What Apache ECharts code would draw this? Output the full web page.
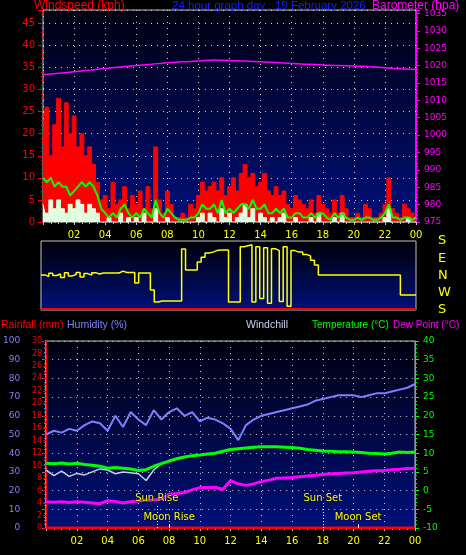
<!DOCTYPE html>
<html><head><meta charset="utf-8">
<script src="https://cdn.jsdelivr.net/npm/echarts@6/dist/echarts.min.js"></script>
<style>html,body{margin:0;background:#000}#c{width:466px;height:555px}</style>
</head><body><div id="c"></div>
<script>
// wind, 15 minute samples (kph)
var gust = [18,26,15,22, 28,17,27,20, 24,17,20,15, 17,13,9,5, 6,3,9,4, 5,8,3,6,
  4,7,3,8, 3,17,5,2, 7,4,1,1, 2,1,4,3, 6,9,7,8, 9,7,10,6,
  8,10,7,11, 13,10,11,8, 9,11,7,6, 8,6,7,4, 3,6,5,4, 3,5,2,6,
  4,3,2,5, 2,6,3,1, 1,2,1,4, 3,1,1,2, 4,10,3,2, 1,4,3,2, 2];
var avgWind = [10,9,10,8, 9,8,8,6, 7,8,9,8, 9,8,6,3, 2,1,2,1, 3,4,2,1,
  2,1,3,2, 1,5,2,1, 3,2,1,0.5, 0.5,0.5,1,1, 2,4,3,3, 4,2,5,2,
  3,2,3,4, 4,3,5,3, 3,4,2,2, 3,2,3,1, 1,2,2,1, 1,2,1,2,
  2,1,0.5,2, 1,2,1,0.5, 0.5,1,0.5,1, 1,0.5,0.5,1, 2,4,1,1, 0.5,1,1,0.5, 1];
var lull = [4,2,5,3, 5,3,2,4, 3,5,4,2, 4,3,2,0, 0,1,0,0, 2,0,1,0,
  1,0,2,0, 0,3,0,0, 1,0,0,0, 0,0,0,0, 1,2,0,2, 1,0,3,1,
  2,0,1,2, 4,1,3,0, 2,1,0,1, 0,1,2,0, 0,1,0,0, 0,1,0,2,
  0,0,0,1, 0,2,0,0, 0,0,0,0, 0,0,0,0, 1,3,0,0, 0,0,1,0, 0];
// direction on panel scale: 0=S 90=W 180=N 270=E 360=S
var windDir = [183,175,192,180, 188,170,195,178, 185,196,172,190, 182,195,188,193,
  193,193,193,193, 203,196,196,196, 141,193,193,193, 104,42,47,47,
  47,47,47,47, 318,209,209,209, 250,275,297,302, 310,313,313,313,
  42,42,42,330, 335,340,42,330, 60,325,35,320, 310,45,330,20,
  310,302,302,290, 282,260,235,183, 183,183,183,183, 183,183,183,183,
  183,183,183,183, 183,183,183,183, 183,183,183,183, 78,78,78,78, 78];
// barometer, hourly (hpa)
var baro = [1017.4,1017.8,1018.2,1018.7,1019.2,1019.6,1020.0,1020.4,1020.8,1021.1,1021.3,1021.6,1021.5,
  1021.3,1021.1,1020.9,1020.6,1020.4,1020.2,1020.0,1019.9,1019.7,1019.4,1019.1,1018.9];
// half-hour samples
var humidity = [50,52,51,53,52,55,57,56,52,60,54,62,58,55,63,58,62,64,60,62,57,59,58,56,53,47,
  55,58,60,61,62,63,64,65,66,68,69,70,71,71,71,70,71,72,72,73,74,75,77];
var temperature = [7.3,7.2,7.4,7.1,7.3,7.0,6.8,6.5,6.0,6.2,6.0,5.8,5.4,5.6,6.5,7.2,7.9,8.5,9.0,9.3,
  9.5,9.8,10.0,10.5,11.0,11.2,11.4,11.6,11.7,11.7,11.7,11.6,11.5,11.3,11.0,10.8,10.6,10.5,10.4,10.4,
  10.3,10.2,10.0,9.9,9.8,10.0,10.3,10.2,10.3];
var windchill = [5.5,4.0,5.2,3.8,4.6,4.2,5.0,5.8,5.5,4.5,5.0,4.8,4.5,2.7,5.5,7.2];
var dewPoint = [-3.0,-3.1,-3.0,-3.2,-3.0,-3.1,-3.3,-3.5,-2.7,-2.9,-3.3,-3.0,-2.8,-2.5,-2.6,-2.2,
  -1.0,-0.8,-0.5,0.2,0.8,0.8,0.9,0.3,2.7,1.8,1.4,1.8,2.4,2.8,3.3,3.4,3.5,3.7,3.9,4.1,4.3,4.5,
  4.6,4.7,4.8,5.0,5.2,5.3,5.4,5.6,5.7,5.9,6.0];
var rainHours = [0, 24];
var rainfall = [0, 0];
var events = ['Sun Rise', 'Moon Rise', 'Sun Set', 'Moon Set'];
var eventHours = [7.2, 8.0, 18.0, 20.3];
var dirLabels = {0: 'S', 90: 'W', 180: 'N', 270: 'E', 360: 'S'};

function pairs(vals, step) {
  return vals.map(function (v, i) { return [i * step, v]; });
}

var dots = {show: true, lineStyle: {color: '#d0d0d0', type: [1, 5], width: 1}};
var bg = function (a, b) {
  return {type: 'linear', x: 0, y: 0, x2: 0, y2: 1, colorStops: [{offset: 0, color: a}, {offset: 1, color: b}]};
};
var hourLabel = {color: '#ffff00', fontSize: 10, fontFamily: 'DejaVu Sans', showMinLabel: false,
  formatter: function (v) { return (v % 24 < 10 ? '0' : '') + (v % 24); }};

function xAxis(grid, labels) {
  return {type: 'value', gridIndex: grid, min: 0, max: 24, interval: 2,
    axisLine: {show: false}, axisTick: {show: labels, length: 3, lineStyle: {color: '#c0c0c0'}},
    minorTick: {show: labels, splitNumber: 4, length: 2, lineStyle: {color: '#c0c0c0'}},
    axisLabel: labels ? hourLabel : {show: false}, splitLine: grid === 1 ? {show: false} : dots};
}

var eventLines = events.map(function (n, i) {
  var top = n.indexOf('Sun') === 0 ? -4 : -9;
  return [{coord: [eventHours[i], -10], name: n,
      lineStyle: {type: n.indexOf('Sun') === 0 ? [1, 2] : 'solid'}},
    {coord: [eventHours[i], top]}];
});

var F = 'Liberation Sans';
var chart = echarts.init(document.getElementById('c'));
chart.setOption({
  backgroundColor: '#000',
  animation: false,
  textStyle: {fontFamily: 'DejaVu Sans'},
  grid: [
    {left: 43, right: 50, top: 10, height: 212, show: true, borderColor: '#c0c0c0', backgroundColor: bg('#000010', '#00107a')},
    {left: 41, right: 50, top: 241, height: 69, show: true, borderColor: '#c0c0c0', backgroundColor: bg('#000008', '#00107a')},
    {left: 43, right: 51, top: 341, height: 187, show: true, borderColor: '#c0c0c0', backgroundColor: bg('#000010', '#00107a')}
  ],
  graphic: [
    {type: 'text', left: 34, top: 0, style: {text: 'Windspeed (kph)', fill: '#ff0000', font: '12px ' + F}},
    {type: 'text', left: 172, top: 0, style: {text: '24 hour graph day : 19 February 2026', fill: '#1020ff', font: '11.5px ' + F}},
    {type: 'text', left: 372, top: 0, style: {text: 'Barometer (hpa)', fill: '#ff00ff', font: '12px ' + F}},
    {type: 'text', left: 1, top: 320, style: {text: 'Rainfall (mm)', fill: '#ff0000', font: '10.5px ' + F}},
    {type: 'text', left: 67, top: 320, style: {text: 'Humidity (%)', fill: '#8080ff', font: '10.5px ' + F}},
    {type: 'text', left: 246, top: 320, style: {text: 'Windchill', fill: '#c0d0f0', font: '10.5px ' + F}},
    {type: 'text', left: 312, top: 320, style: {text: 'Temperature (°C)', fill: '#00ff00', font: '10px ' + F}},
    {type: 'text', left: 393, top: 320, style: {text: 'Dew Point (°C)', fill: '#ff00ff', font: '10px ' + F}}
  ],
  xAxis: [xAxis(0, true), xAxis(1, false), xAxis(2, true)],
  yAxis: [
    {type: 'value', gridIndex: 0, min: 0, max: 48, interval: 5,
      axisLine: {show: false}, axisTick: {show: true, length: 5, lineStyle: {color: '#ff0000'}},
      minorTick: {show: true, splitNumber: 5, length: 2, lineStyle: {color: '#ff0000'}},
      axisLabel: {color: '#ff0000', fontSize: 10, showMaxLabel: false}, splitLine: dots},
    {type: 'value', gridIndex: 0, position: 'right', min: 975, max: 1036, interval: 5,
      axisLine: {show: true, lineStyle: {color: '#ff00ff'}}, axisTick: {show: true, length: 4, lineStyle: {color: '#ff00ff'}},
      minorTick: {show: true, splitNumber: 5, length: 2, lineStyle: {color: '#ff00ff'}},
      axisLabel: {color: '#ff00ff', fontSize: 9, showMaxLabel: false, formatter: function (v) { return String(v); }},
      splitLine: {show: false}},
    {type: 'value', gridIndex: 1, position: 'right', min: 0, max: 360, interval: 90, offset: 14,
      axisLine: {show: false}, axisTick: {show: false}, splitLine: {show: false},
      axisLabel: {color: '#ffff00', fontSize: 13, formatter: function (v) { return dirLabels[v]; }}},
    {type: 'value', gridIndex: 2, position: 'left', offset: 20, min: 0, max: 100, interval: 10,
      axisLine: {show: true, lineStyle: {color: '#8080ff', width: 2}}, axisTick: {show: true, length: 4, lineStyle: {color: '#8080ff'}},
      minorTick: {show: true, splitNumber: 5, length: 2, lineStyle: {color: '#8080ff'}},
      axisLabel: {color: '#8080ff', fontSize: 9, margin: 6}, splitLine: {show: false}},
    {type: 'value', gridIndex: 2, position: 'left', min: 0, max: 30, interval: 2,
      axisLine: {show: true, lineStyle: {color: '#ff0000'}}, axisTick: {show: true, length: 3, lineStyle: {color: '#ff0000'}},
      minorTick: {show: true, splitNumber: 2, length: 2, lineStyle: {color: '#ff0000'}},
      axisLabel: {color: '#ff0000', fontSize: 8, margin: 4}, splitLine: {show: false}},
    {type: 'value', gridIndex: 2, position: 'right', min: -10, max: 40, interval: 5,
      axisLine: {show: true, lineStyle: {color: '#00ff00'}}, axisTick: {show: true, length: 4, lineStyle: {color: '#00ff00'}},
      minorTick: {show: true, splitNumber: 5, length: 2, lineStyle: {color: '#00ff00'}},
      axisLabel: {color: '#00ff00', fontSize: 9}, splitLine: dots}
  ],
  series: [
    {name: 'Gust', type: 'line', xAxisIndex: 0, yAxisIndex: 0, step: 'middle', symbol: 'none',
      data: pairs(gust, 0.25), lineStyle: {color: '#ff0000', width: 1}, areaStyle: {color: '#ff0000', opacity: 1}},
    {name: 'Lull', type: 'line', xAxisIndex: 0, yAxisIndex: 0, step: 'middle', symbol: 'none',
      data: pairs(lull, 0.25), lineStyle: {color: '#e0ffe0', width: 1}, areaStyle: {color: '#e0ffe0', opacity: 1}},
    {name: 'Average', type: 'line', xAxisIndex: 0, yAxisIndex: 0, symbol: 'none',
      data: pairs(avgWind, 0.25), lineStyle: {color: '#00ff00', width: 2}},
    {name: 'Barometer', type: 'line', xAxisIndex: 0, yAxisIndex: 1, symbol: 'none', smooth: true,
      data: pairs(baro, 1), lineStyle: {color: '#ff00ff', width: 1.5}},
    {name: 'Direction', type: 'line', xAxisIndex: 1, yAxisIndex: 2, symbol: 'none', step: 'end',
      data: pairs(windDir, 0.25), lineStyle: {color: '#ffff00', width: 1.5},
      markLine: {silent: true, symbol: 'none', label: {show: false},
        lineStyle: {color: '#ff0000', type: 'solid', width: 2}, data: [{yAxis: 6}]}},
    {name: 'Humidity', type: 'line', xAxisIndex: 2, yAxisIndex: 3, symbol: 'none',
      data: pairs(humidity, 0.5), lineStyle: {color: '#8080ff', width: 2}},
    {name: 'Rainfall', type: 'line', xAxisIndex: 2, yAxisIndex: 4, symbol: 'none',
      data: rainHours.map(function (h, i) { return [h, rainfall[i]]; }), lineStyle: {color: '#ff0000', width: 3}},
    {name: 'Windchill', type: 'line', xAxisIndex: 2, yAxisIndex: 5, symbol: 'none',
      data: pairs(windchill, 0.5), lineStyle: {color: '#c0d0f0', width: 1.5}},
    {name: 'Temperature', type: 'line', xAxisIndex: 2, yAxisIndex: 5, symbol: 'none',
      data: pairs(temperature, 0.5), lineStyle: {color: '#00ff00', width: 3}},
    {name: 'Dew Point', type: 'line', xAxisIndex: 2, yAxisIndex: 5, symbol: 'none',
      data: pairs(dewPoint, 0.5), lineStyle: {color: '#ff00ff', width: 3},
      markLine: {silent: true, symbol: 'none', lineStyle: {color: '#ffffff', width: 1},
        label: {show: true, position: 'end', formatter: '{b}', color: '#ffff00', fontSize: 10, distance: 2,
          textBorderColor: '#000040', textBorderWidth: 1},
        data: eventLines}}
  ]
});
</script>
</body></html>
